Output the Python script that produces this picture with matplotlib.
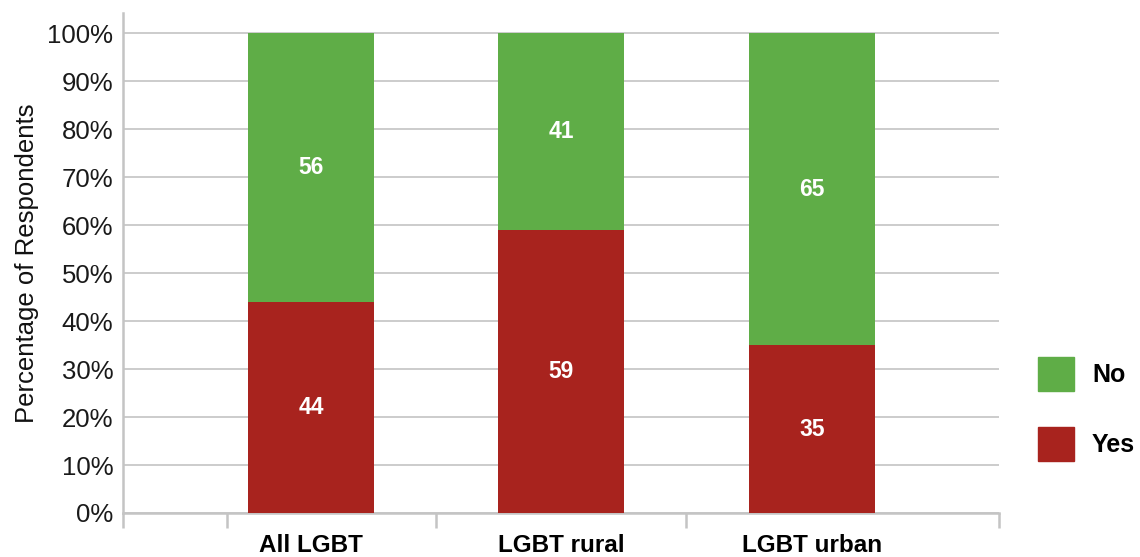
import matplotlib.pyplot as plt
from matplotlib.patches import Patch

# data
categories = ["All LGBT", "LGBT rural", "LGBT urban"]
yes_vals = [44, 59, 35]
no_vals = [56, 41, 65]
yticks = [0, 10, 20, 30, 40, 50, 60, 70, 80, 90, 100]

green = "#5fad47"
red = "#a8231e"
grey = "#c4c4c4"

plt.rcParams['font.family'] = ['Liberation Sans', 'DejaVu Sans']

fig = plt.figure(figsize=(11.4, 5.57), dpi=100)
ax = fig.add_axes([0.1079, 0.079, 0.7684, 0.8977])

x = list(range(len(categories)))
w = 0.503
b1 = ax.bar(x, yes_vals, w, color=red, zorder=3)
b2 = ax.bar(x, no_vals, w, bottom=yes_vals, color=green, zorder=3)
ax.bar_label(b1, label_type='center', color='white', fontsize=16.5, fontweight='bold')
ax.bar_label(b2, label_type='center', color='white', fontsize=16.5, fontweight='bold')

ax.set_xlim(-0.75, 2.747)
ax.set_ylim(0, 104.2)

# y axis
ax.set_yticks(yticks)
ax.set_yticklabels([f"{v}%" for v in yticks])
ax.tick_params(axis='y', length=0, pad=7, labelsize=18.5, labelcolor='#1a1a1a')
ax.yaxis.grid(True, color=grey, linewidth=1.2, zorder=0)
ax.set_ylabel("Percentage of Respondents", fontsize=18.5, labelpad=6, color='#111111')

# x axis: boundary ticks as major, category names as minor
ax.set_xticks([-0.75, -0.335, 0.499, 1.497, 2.747])
ax.set_xticklabels([])
ax.tick_params(axis='x', which='major', length=10.5, width=1.8, color=grey)
ax.set_xticks(x, minor=True)
ax.set_xticklabels(categories, minor=True, fontsize=17.5, fontweight='bold')
ax.tick_params(axis='x', which='minor', length=0, pad=15)

for s in ['top', 'right']:
    ax.spines[s].set_visible(False)
for s in ['left', 'bottom']:
    ax.spines[s].set_color(grey)
    ax.spines[s].set_linewidth(1.8)

handles = [Patch(color=green, label='No'), Patch(color=red, label='Yes')]
fig.legend(handles=handles, loc='upper left', bbox_to_anchor=(0.9105, 0.359),
           frameon=False, borderaxespad=0, borderpad=0,
           handlelength=1.44, handleheight=1.72, labelspacing=1.44,
           handletextpad=0.72, prop={'size': 18, 'weight': 'bold'})

fig.savefig("out.png", dpi=100)
